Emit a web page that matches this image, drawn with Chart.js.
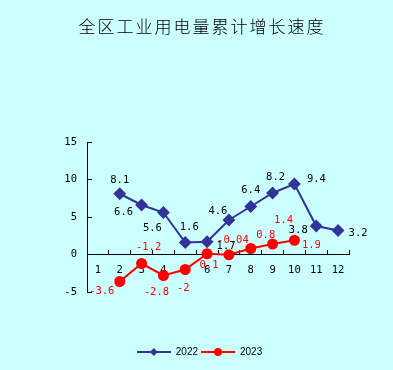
<!DOCTYPE html>
<html>
<head>
<meta charset="utf-8">
<script src="https://cdn.jsdelivr.net/npm/chart.js@4"></script>
<style>
  html, body { margin: 0; padding: 0; background: #ccffff; }
  #wrap { width: 393px; height: 370px; }
</style>
</head>
<body>
<div id="wrap"><canvas id="chart" width="393" height="370"></canvas></div>
<script>
const chartTitle = '全区工业用电量累计增长速度';
// months on the x axis
const months = ['1', '2', '3', '4', '5', '6', '7', '8', '9', '10', '11', '12'];
// cumulative growth, %
const growth2022 = [null, 8.1, 6.6, 5.6, 1.6, 1.7, 4.6, 6.4, 8.2, 9.4, 3.8, 3.2];
const growth2023 = [null, -3.6, -1.2, -2.8, -2, 0.1, -0.04, 0.8, 1.4, 1.9, null, null];
const yTicks = [-5, 0, 5, 10, 15];

// where each value label sits relative to its point (px)
const labelShift2022 = [null, [0, -13], [-18, 7], [-11, 16], [4, -15], [19, 5], [-11, -9], [0, -16], [3, -16], [22, -5], [-18, 4], [20, 3]];
const labelShift2023 = [null, [-18, 10], [7, -16], [-7, 17], [-2, 19], [2, 12], [4, -15], [15, -13], [11, -24], [17, 5], null, null];

const monoFont = { family: 'DejaVu Sans Mono', size: 10.5 };

// legend swatch: short line with the marker in the middle
function legendSwatch(color, style) {
  const c = document.createElement('canvas');
  c.width = 34; c.height = 10;
  const g = c.getContext('2d');
  g.strokeStyle = color; g.fillStyle = color; g.lineWidth = 2;
  g.beginPath(); g.moveTo(0, 5); g.lineTo(34, 5); g.stroke();
  g.beginPath();
  if (style === 'diamond') {
    g.moveTo(17, 1); g.lineTo(21, 5); g.lineTo(17, 9); g.lineTo(13, 5); g.closePath();
  } else {
    g.arc(17, 5, 4, 0, Math.PI * 2);
  }
  g.fill();
  return c;
}
const swatches = [legendSwatch('#333399', 'diamond'), legendSwatch('#ff0000', 'circle')];

// background + spaced-out title
const bgPlugin = {
  id: 'bg',
  beforeDraw(chart) {
    const ctx = chart.ctx;
    ctx.save();
    ctx.fillStyle = '#ccffff';
    ctx.fillRect(0, 0, chart.width, chart.height);
    ctx.fillStyle = '#000';
    ctx.font = '300 17px "Noto Sans CJK SC"';
    ctx.letterSpacing = '2px';
    ctx.textAlign = 'center';
    ctx.textBaseline = 'middle';
    ctx.fillText(chartTitle, 202, 27);
    ctx.restore();
  }
};

const valueLabels = {
  id: 'valueLabels',
  afterDatasetsDraw(chart) {
    const ctx = chart.ctx;
    const shifts = [labelShift2022, labelShift2023];
    const colors = ['#000000', '#ff0000'];
    ctx.save();
    ctx.font = monoFont.size + 'px "' + monoFont.family + '"';
    ctx.textAlign = 'center';
    ctx.textBaseline = 'middle';
    chart.data.datasets.forEach((ds, d) => {
      const meta = chart.getDatasetMeta(d);
      meta.data.forEach((pt, i) => {
        const v = ds.data[i];
        if (v === null || !shifts[d][i]) return;
        ctx.fillStyle = colors[d];
        ctx.fillText(String(v), pt.x + shifts[d][i][0], pt.y + shifts[d][i][1]);
      });
    });
    ctx.restore();
  }
};

new Chart(document.getElementById('chart'), {
  type: 'line',
  data: {
    labels: months,
    datasets: [{
      label: '2022',
      data: growth2022,
      xAxisID: 'x',
      yAxisID: 'y',
      borderColor: '#333399',
      backgroundColor: '#333399',
      borderWidth: 2,
      pointStyle: 'rectRot',
      pointRadius: 5,
      pointHoverRadius: 5,
      tension: 0
    }, {
      label: '2023',
      data: growth2023,
      xAxisID: 'x',
      yAxisID: 'y',
      borderColor: '#ff0000',
      backgroundColor: '#ff0000',
      borderWidth: 2,
      pointStyle: 'circle',
      pointRadius: 4.5,
      pointHoverRadius: 4.5,
      tension: 0
    }]
  },
  options: {
    responsive: false,
    animation: false,
    events: [],
    layout: { padding: { left: 6, right: 0, top: 142, bottom: 3 } },
    plugins: {
      title: { display: false },
      legend: {
        position: 'bottom',
        labels: {
          usePointStyle: true,
          pointStyleWidth: 34,
          padding: 3,
          color: '#000',
          font: { family: 'Liberation Sans', size: 10 },
          generateLabels(chart) {
            const items = Chart.defaults.plugins.legend.labels.generateLabels(chart);
            items.forEach((it, i) => { it.pointStyle = swatches[i]; });
            return items;
          }
        }
      },
      tooltip: { enabled: false }
    },
    scales: {
      x: {
        type: 'category',
        position: { y: 0 },
        offset: true,
        grid: { offset: true, drawOnChartArea: false, tickLength: -5, color: '#000' },
        border: { color: '#000', width: 1 },
        ticks: { padding: 14, color: '#000', font: monoFont, autoSkip: false, maxRotation: 0 }
      },
      // empty axis only to keep room between plot and legend
      xb: {
        type: 'linear',
        axis: 'x',
        position: 'bottom',
        display: true,
        afterFit(s) { s.height = 52; },
        grid: { display: false },
        border: { display: false },
        ticks: { display: false }
      },
      y: {
        position: 'left',
        min: -5,
        max: 15,
        afterFit(s) { s.width = 81; },
        afterBuildTicks(s) { s.ticks = yTicks.map(v => ({ value: v })); },
        grid: { drawOnChartArea: false, tickLength: -5, color: '#000' },
        border: { color: '#000', width: 1 },
        ticks: { padding: 15, color: '#000', font: monoFont }
      },
      yr: {
        position: 'right',
        display: true,
        afterFit(s) { s.width = 44; },
        grid: { display: false },
        border: { display: false },
        ticks: { display: false }
      }
    }
  },
  plugins: [bgPlugin, valueLabels]
});
</script>
</body>
</html>
